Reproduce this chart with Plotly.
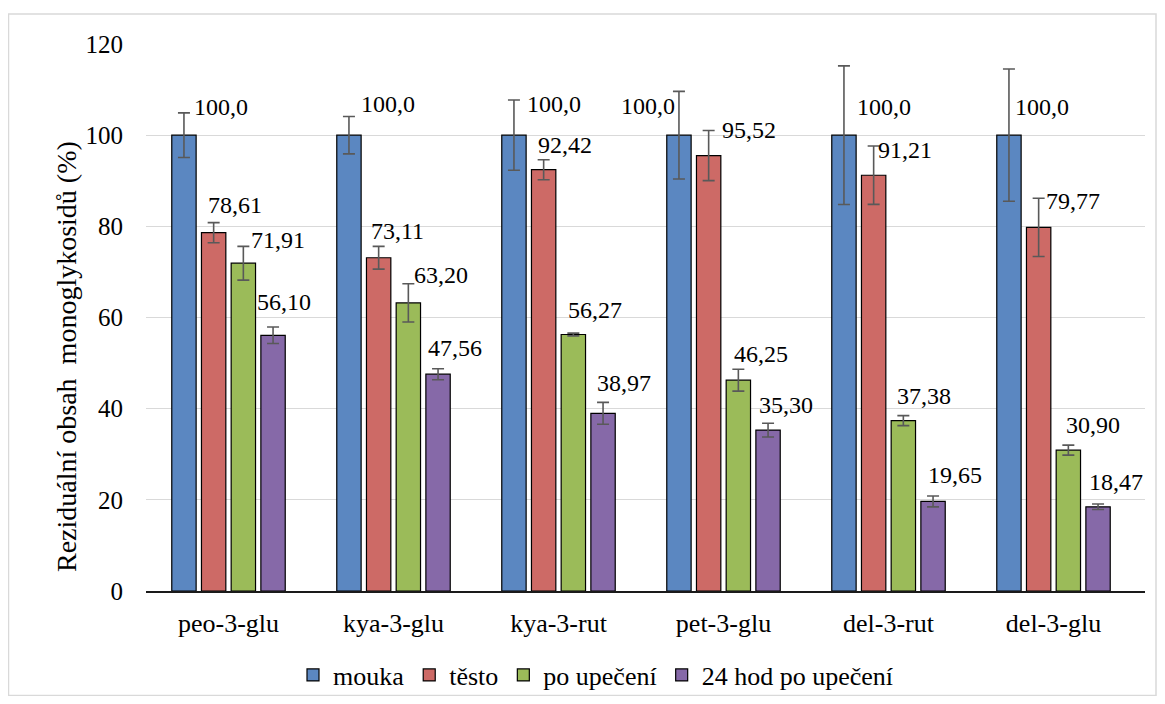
import plotly.graph_objects as go

categories = ["peo-3-glu", "kya-3-glu", "kya-3-rut", "pet-3-glu", "del-3-rut", "del-3-glu"]
series_names = ["mouka", "těsto", "po upečení", "24 hod po upečení"]
y_title = "Reziduální obsah  monoglykosidů (%)"

mouka = [100.0, 100.0, 100.0, 100.0, 100.0, 100.0]
testo = [78.61, 73.11, 92.42, 95.52, 91.21, 79.77]
po_upeceni = [71.91, 63.20, 56.27, 46.25, 37.38, 30.90]
hod24_po_upeceni = [56.10, 47.56, 38.97, 35.30, 19.65, 18.47]

err_mouka = [4.9, 4.1, 7.7, 9.6, 15.2, 14.5]
err_testo = [2.2, 2.5, 2.2, 5.5, 6.4, 6.4]
err_po_upeceni = [3.7, 4.2, 0.3, 2.4, 1.1, 1.1]
err_hod24 = [1.8, 1.2, 2.4, 1.5, 1.2, 0.6]

decimals = [1, 2, 2, 2]

# style: label offsets (px) from each bar's top centre
label_dx = [
    [37.5, 39, 40, -30.5, 40, 33.5],
    [21, 19, 21.5, 40.5, 31, 34.5],
    [34, 32, 21.5, 22, 20, 24],
    [10.5, 16.5, 20.5, 17, 21, 17.5],
]
label_dy = [
    [28, 31, 31, 29, 28, 28],
    [28, 27, 25, 25.5, 25, 26],
    [23, 28, 24.5, 26, 24.5, 25],
    [33.5, 26, 30, 25, 26, 25],
]

colors = ["#5B87C1", "#CD6A66", "#9BBB59", "#8669A8"]
values = [mouka, testo, po_upeceni, hod24_po_upeceni]
errors = [err_mouka, err_testo, err_po_upeceni, err_hod24]

FONT = "Liberation Serif"

fig = go.Figure()
for s, name in enumerate(series_names):
    fig.add_trace(go.Bar(
        x=categories, y=values[s], name=name,
        marker=dict(color=colors[s], line=dict(color="#000000", width=1.2)),
        error_y=dict(type="data", array=errors[s], visible=True,
                     color="#595959", thickness=1.6, width=6),
    ))

annotations = []
slot = 30
for s in range(4):
    for i, c in enumerate(categories):
        v = values[s][i]
        txt = f"{v:.{decimals[s]}f}".replace(".", ",")
        annotations.append(dict(
            x=c, y=v, xref="x", yref="y", text=txt, showarrow=False,
            xanchor="center", yanchor="middle",
            xshift=(s - 1.5) * slot + label_dx[s][i], yshift=label_dy[s][i],
            font=dict(family=FONT, size=24, color="#000000"),
        ))

# page body margin of 8px shifts the figure; compensate
OFF = 8
W, H = 1165 - 2 * OFF, 704 - 2 * OFF
L, T = 146 - OFF, 44 - OFF
pw, ph = 999, 547
R, B = W - L - pw, H - T - ph

def px(sx):
    return (sx - OFF - L) / pw

def py(sy):
    return (H - B - (sy - OFF)) / ph

# y-axis title (centred on the chart area, as in the original)
annotations.append(dict(
    text=y_title, xref="paper", yref="paper", x=px(66), y=py(357),
    xanchor="center", yanchor="middle", textangle=-90, showarrow=False,
    font=dict(family=FONT, size=28, color="#000000"),
))

fig.update_layout(
    width=W, height=H,
    margin=dict(l=L, r=R, t=T, b=B, autoexpand=False),
    paper_bgcolor="white", plot_bgcolor="white",
    barmode="group", bargap=0.28, bargroupgap=0.18,
    font=dict(family=FONT, color="#000000"),
    showlegend=True,
    legend=dict(orientation="h", x=px(596), xanchor="center", y=py(675), yanchor="middle",
                font=dict(family=FONT, size=26, color="#000000"), itemwidth=30,
                bgcolor="rgba(0,0,0,0)"),
    annotations=annotations,
    shapes=[dict(type="rect", xref="paper", yref="paper",
                 x0=px(8.5), x1=px(1156), y0=py(695.5), y1=py(14),
                 line=dict(color="#D9D9D9", width=1.5), layer="below")],
)

fig.update_xaxes(
    showline=True, linecolor="#1A1A1A", linewidth=1.5, ticks="", showgrid=False,
    tickfont=dict(family=FONT, size=26, color="#000000"), automargin=False,
    ticklabelstandoff=8,
)
fig.update_yaxes(
    range=[0, 120], dtick=20, showline=False, zeroline=False,
    showgrid=True, gridcolor="#D9D9D9", gridwidth=1.3, ticks="",
    tickfont=dict(family=FONT, size=25, color="#000000"), automargin=False,
    ticklabelstandoff=22,
)

fig.write_html("out.html")
